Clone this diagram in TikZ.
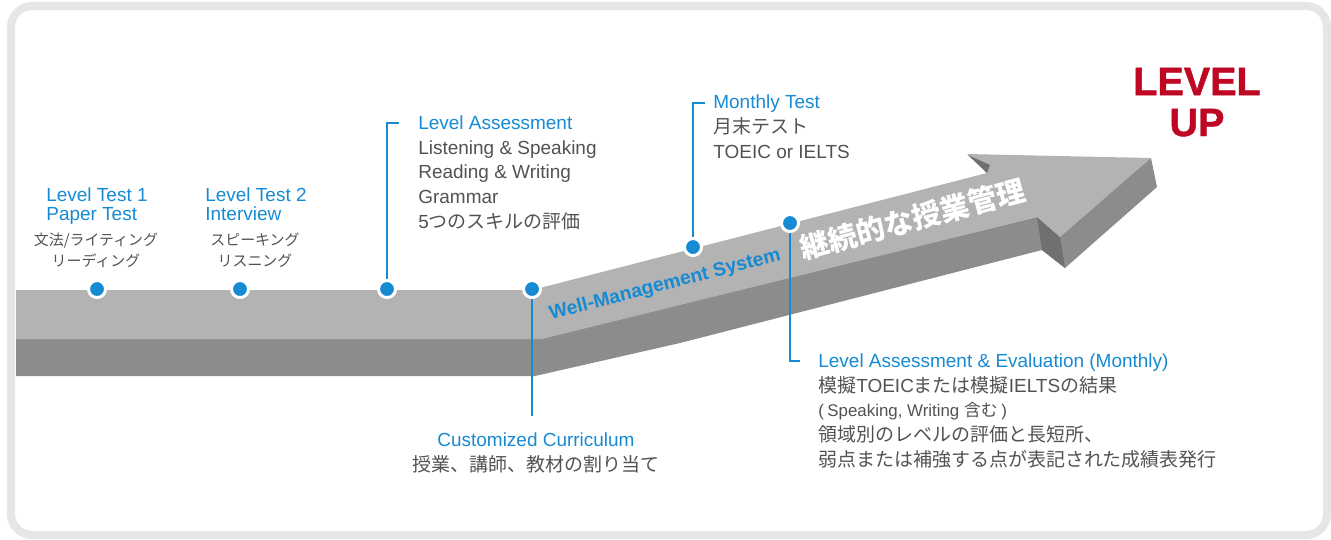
\documentclass[tikz,border=0pt]{standalone}
\usepackage{fontspec}
\setmainfont{Liberation Sans}
\newfontfamily\jp{Noto Sans CJK JP}
\newfontfamily\dick[FakeBold=1.2]{Liberation Sans Bold}
\usepackage{xcolor}
\usepackage{tikz}

\definecolor{punktblau}{RGB}{22,138,210}
\definecolor{textgrau}{RGB}{82,82,82}
\definecolor{levelrot}{RGB}{190,8,35}
\definecolor{pfeilhell}{RGB}{179,179,179}
\definecolor{pfeildunkel}{RGB}{140,140,140}
\definecolor{pfeilkante}{RGB}{112,112,112}
\definecolor{rahmengrau}{RGB}{230,230,230}

\tikzset{
	punkt/.style={
		circle,
		fill=punktblau,
		draw=white,
		line width=1.7pt,
		inner sep=0pt,
		minimum size=9.7pt
	},
	leitung/.style={
		draw=punktblau,
		line width=0.85pt
	},
	kopf/.style={
		text=punktblau,
		align=left,
		inner sep=0pt,
		font=\fontsize{10.8}{10.8}\selectfont
	},
	klein/.style={
		text=textgrau,
		align=center,
		inner sep=0pt,
		font=\jp\fontsize{8.5}{11.4}\selectfont
	},
	block/.style={
		text=textgrau,
		inner sep=0pt,
		font=\fontsize{10.8}{14}\selectfont
	}
}

\begin{document}
\begin{tikzpicture}[x=0.02cm, y=-0.02cm]
	\useasboundingbox (0,0) rectangle (1331,539);
	% Rahmen
	\draw[
		rahmengrau,
		line width=4.6pt,
		rounded corners=12pt
	] (11,6) rectangle (1327,535);
	% Pfeil Seitenflaeche
	\fill[
		pfeildunkel
	] (16,338) -- (16,376) -- (535,376) -- (680,343) -- (1042,250) --
		(1065,268) -- (1157,187) -- (1151,158) -- (1037,217) -- (542,338) -- cycle;
	% Kerbe unten
	\fill[
		pfeilkante
	] (1037,217) -- (1060,237) -- (1065,268) -- (1042,250) -- cycle;
	% Pfeil Oberseite
	\fill[
		pfeilhell
	] (16,290) -- (532,290) -- (987,173) -- (967,154) -- (1151,158) --
		(1060,237) -- (1037,217) -- (542,339) -- (16,339) -- cycle;
	% Kerbe oben
	\fill[
		pfeilkante
	] (968,155) -- (990,165) -- (987,173) -- cycle;
	% Schrift auf dem Pfeil
	\node[
		rotate=14.5,
		text=punktblau,
		font=\bfseries\fontsize{11}{13}\selectfont
	] (wms) at (665,285) {Well-Management System};
	\node[
		rotate=15,
		text=white,
		font=\jp\bfseries\fontsize{16.5}{18}\selectfont
	] (keizoku) at (913,219) {継続的な授業管理};
	% Punkte
	\node[punkt] (lt1) at (97,289) {};
	\node[punkt] (lt2) at (240,289) {};
	\node[punkt] (la) at (387,289) {};
	\node[punkt] (cc) at (532,289) {};
	\node[punkt] (mt) at (693,247) {};
	\node[punkt] (lae) at (790,223) {};
	% Leitungen
	\coordinate (laEck) at (399,123);
	\coordinate (mtEck) at (705,103);
	\coordinate (ccEnde) at (532,416);
	\coordinate (laeEck) at (800,361);
	\draw[leitung] (la) |- (laEck);
	\draw[leitung] (mt) |- (mtEck);
	\draw[leitung] (cc) -- (ccEnde);
	\draw[leitung] (lae) |- (laeEck);
	% Level Test 1
	\node[
		kopf,
		anchor=base west
	] (lt1Titel) at (46,220) {Level Test 1\\Paper Test};
	\node[
		klein,
		anchor=base
	] (lt1Text) at (96,266) {文法/ライティング\\リーディング};
	% Level Test 2
	\node[
		kopf,
		anchor=base west
	] (lt2Titel) at (205,220) {Level Test 2\\Interview};
	\node[
		klein,
		anchor=base
	] (lt2Text) at (255,266) {スピーキング\\リスニング};
	% Level Assessment
	\node[
		block,
		align=left,
		anchor=base west
	] (laText) at (418,228) {\textcolor{punktblau}{Level Assessment}\\
		Listening \& Speaking\\Reading \& Writing\\Grammar\\
		5{\jp つのスキルの評価}};
	% Monthly Test
	\node[
		block,
		align=left,
		anchor=base west
	] (mtText) at (713,158) {\textcolor{punktblau}{Monthly Test}\\
		{\jp 月末テスト}\\TOEIC or IELTS};
	% Customized Curriculum
	\node[
		block,
		align=center,
		anchor=base
	] (ccText) at (536,471) {\textcolor{punktblau}{Customized Curriculum}\\
		{\jp 授業、講師、教材の割り当て}};
	% Level Assessment & Evaluation
	\node[
		block,
		align=left,
		anchor=base west
	] (laeText) at (818,466) {\textcolor{punktblau}{Level Assessment \& Evaluation (Monthly)}\\
		{\jp 模擬}TOEIC{\jp または模擬}IELTS{\jp の結果}\\
		{\fontsize{9.6}{14}\selectfont(\kern2pt Speaking, Writing {\jp 含む}\kern2pt)}\\
		{\jp 領域別のレベルの評価と長短所、}\\
		{\jp 弱点または補強する点が表記された成績表発行}};
	% Level Up
	\node[
		text=levelrot,
		font=\dick\fontsize{22.5}{23.3}\selectfont,
		align=center,
		inner sep=0pt,
		anchor=base
	] (levelup) at (1197,136) {LEVEL\\UP};
\end{tikzpicture}
\end{document}
